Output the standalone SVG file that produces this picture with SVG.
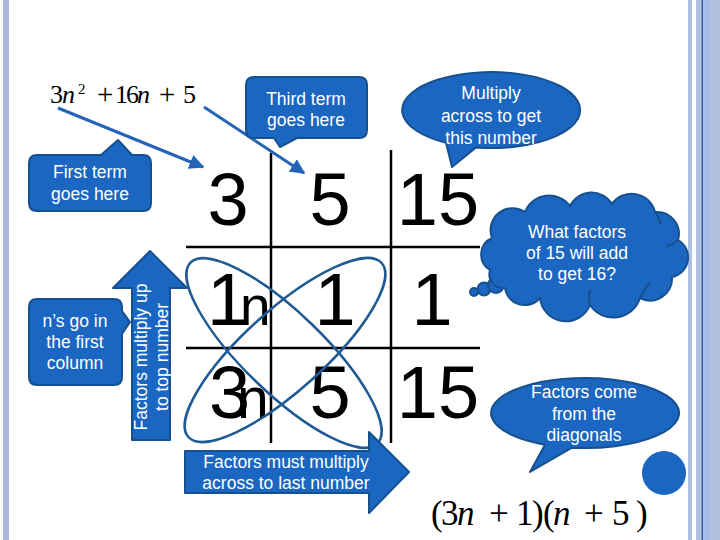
<svg xmlns="http://www.w3.org/2000/svg" width="720" height="540" viewBox="0 0 720 540">
<defs>
<style>
.cw{fill:#ffffff;font-family:"Liberation Sans",Arial,sans-serif;font-size:17.5px;text-anchor:middle}
.shape{fill:#1a66c0;stroke:#17508f;stroke-width:2;stroke-linejoin:round}
.num{fill:#000;font-family:"Liberation Sans",Arial,sans-serif;font-size:74px}
.math{fill:#000;font-family:"Liberation Serif","Times New Roman",serif}
.it{font-style:italic}
.grid{stroke:#000;stroke-width:2.5}
.conn{stroke:#2464b8;stroke-width:3;fill:none}
.loop{fill:none;stroke:#1f5a94;stroke-width:2.5}
</style>
<marker id="ah" viewBox="0 0 10 10" refX="9" refY="5" markerWidth="5" markerHeight="5" orient="auto">
<path d="M0,0 L10,5 L0,10 Z" fill="#2464b8"/>
</marker>
</defs>
<rect x="0" y="0" width="720" height="540" fill="#ffffff"/>
<g id="borders">
<rect x="3" y="0" width="6" height="540" fill="#aab7dc"/>
<rect x="688" y="0" width="4" height="540" fill="#b0c0e2"/>
<rect x="696" y="0" width="24" height="540" fill="#b2c0e0"/>
<rect x="703" y="0" width="7" height="540" fill="#a6bde8"/>
<rect x="701.6" y="0" width="1.4" height="540" fill="#3a5aa8"/>
</g>
<g id="formula-top" class="math" font-size="26">
<text y="103"><tspan x="50">3</tspan><tspan x="62" class="it">n</tspan><tspan x="78" y="94" font-size="15">2</tspan><tspan x="97" y="104" font-size="29">+</tspan><tspan x="115" y="103">1</tspan><tspan x="126">6</tspan><tspan x="137" class="it">n</tspan><tspan x="159" y="104" font-size="29">+</tspan><tspan x="183" y="103">5</tspan></text>
</g>
<g id="grid">
<line class="grid" x1="271" y1="153" x2="271" y2="443"/>
<line class="grid" x1="391" y1="150" x2="391" y2="443"/>
<line class="grid" x1="186" y1="247" x2="480" y2="247"/>
<line class="grid" x1="186" y1="348" x2="480" y2="348"/>
</g>
<g id="cells" class="num">
<text x="228" y="225" text-anchor="middle">3</text>
<text x="330" y="225" text-anchor="middle">5</text>
<text x="438" y="225" text-anchor="middle">15</text>
<text x="207" y="325">1<tspan x="240" font-size="55">n</tspan></text>
<text x="335" y="325" text-anchor="middle">1</text>
<text x="432" y="325" text-anchor="middle">1</text>
<text x="209" y="418">3<tspan x="237" font-size="57">n</tspan></text>
<text x="330" y="418" text-anchor="middle">5</text>
<text x="438" y="418" text-anchor="middle">15</text>
</g>
<g id="diagonals">
<ellipse class="loop" cx="284" cy="353" rx="130" ry="40" transform="rotate(44 284 353)"/>
<ellipse class="loop" cx="285" cy="350" rx="130" ry="40" transform="rotate(-42 285 350)"/>
</g>
<g id="connectors">
<line class="conn" x1="58" y1="108" x2="203" y2="167" marker-end="url(#ah)"/>
<line class="conn" x1="204" y1="107" x2="304" y2="173" marker-end="url(#ah)"/>
</g>
<g id="third-term">
<path class="shape" d="M254,77 H359 Q367,77 367,85 V130 Q367,138 359,138 H297 L280,147 L274,138 H254 Q246,138 246,130 V85 Q246,77 254,77 Z"/>
<text class="cw" x="306" y="105">Third term</text>
<text class="cw" x="306" y="126">goes here</text>
</g>
<g id="multiply-across">
<path class="shape" d="M446,142.8 A89,38 0 1 1 476,147.5 L452,167 Z"/>
<text class="cw" x="491" y="99">Multiply</text>
<text class="cw" x="491" y="122">across to get</text>
<text class="cw" x="491" y="144">this number</text>
</g>
<g id="first-term">
<path class="shape" d="M37,155 H101 L118,140 L132,155 H143 Q151,155 151,163 V203 Q151,211 143,211 H37 Q29,211 29,203 V163 Q29,155 37,155 Z"/>
<text class="cw" x="90" y="178">First term</text>
<text class="cw" x="90" y="200">goes here</text>
</g>
<g id="ns-first-column">
<path class="shape" d="M37,299 H114 Q122,299 122,307 V311 L130,322 L122,334 V377 Q122,385 114,385 H37 Q29,385 29,377 V307 Q29,299 37,299 Z"/>
<text class="cw" x="75" y="327">n’s go in</text>
<text class="cw" x="75" y="348">the first</text>
<text class="cw" x="75" y="369">column</text>
</g>
<g id="multiply-up">
<path class="shape" d="M150,251 L187,288 L170,288 L170,440 L132,440 L132,288 L113,288 Z"/>
<text class="cw" transform="translate(147 357) rotate(-90)">Factors multiply up</text>
<text class="cw" transform="translate(168 357) rotate(-90)">to top number</text>
</g>
<g id="multiply-across-last">
<path class="shape" d="M185,451 L369,451 L369,432 L409,472 L369,513 L369,493 L185,493 Z"/>
<text class="cw" x="286" y="468">Factors must multiply</text>
<text class="cw" x="286" y="489">across to last number</text>
</g>
<g id="what-factors">
<circle class="shape" cx="474" cy="292" r="4"/>
<circle class="shape" cx="484" cy="289" r="6.5"/>
<circle class="shape" cx="496" cy="285" r="8"/>
<path class="shape" d="M490,270 A18,18 0 0 1 492,238 A22,22 0 0 1 525,212 A26,26 0 0 1 570,206 A24,24 0 0 1 612,204 A24,24 0 0 1 655,212 A22,22 0 0 1 678,240 A20,20 0 0 1 672,277 A22,22 0 0 1 640,298 A28,28 0 0 1 590,305 A26,26 0 0 1 540,298 A20,20 0 0 1 505,288 A14,14 0 0 1 490,270 Z"/>
<path d="M667,246 Q674,244 678,240 M640,298 Q645,288 650,282 M590,305 Q588,296 590,290 M655,212 Q660,218 660,224" fill="none" stroke="#17508f" stroke-width="2"/>
<text class="cw" x="577" y="238">What factors</text>
<text class="cw" x="577" y="259">of 15 will add</text>
<text class="cw" x="577" y="280">to get 16?</text>
</g>
<g id="diagonals-note">
<path class="shape" d="M545,444.7 A94,35 0 1 1 572,447.7 L530,472 Z"/>
<text class="cw" x="584" y="398">Factors come</text>
<text class="cw" x="584" y="420">from the</text>
<text class="cw" x="584" y="441">diagonals</text>
</g>
<circle id="dot" cx="664" cy="473" r="22" fill="#1a66c0"/>
<g id="formula-bottom" class="math" font-size="35">
<text y="525"><tspan x="431">(</tspan><tspan x="441">3</tspan><tspan x="457" class="it">n</tspan><tspan x="489">+</tspan><tspan x="516">1</tspan><tspan x="532">)</tspan><tspan x="543">(</tspan><tspan x="553" class="it">n</tspan><tspan x="584">+</tspan><tspan x="612">5</tspan><tspan x="636">)</tspan></text>
</g>
</svg>
